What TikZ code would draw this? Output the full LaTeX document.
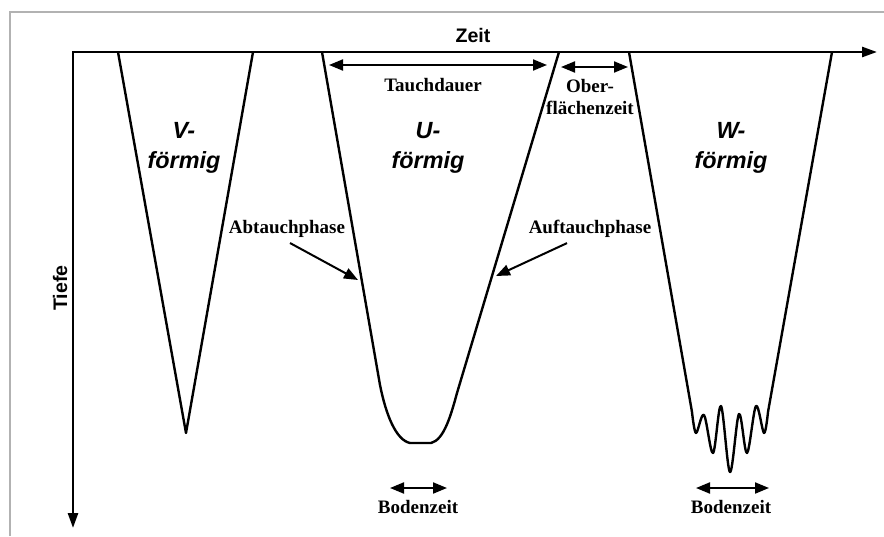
\documentclass[tikz,border=0pt]{standalone}
\usepackage{fontspec}
\setmainfont{Liberation Serif}
\setsansfont{Liberation Sans}
\usetikzlibrary{arrows.meta, positioning}

\tikzset{
  axis/.style={line width=1.3pt, {Triangle[length=7.5pt,width=5pt]}-{Triangle[length=7.5pt,width=5pt]}},
  profile/.style={line width=1.2pt, line join=round},
  span/.style={line width=1pt, {Triangle[length=7pt,width=5.5pt]}-{Triangle[length=7pt,width=5.5pt]}},
  pointer/.style={line width=1pt, -{Triangle[length=7pt,width=5.5pt]}},
  lbl/.style={font=\bfseries\fontsize{9.5}{11.4}\selectfont, align=center, inner sep=0pt},
  shapelbl/.style={font=\sffamily\bfseries\itshape\fontsize{11.7}{15}\selectfont, align=center, inner sep=0pt},
  axlbl/.style={font=\sffamily\bfseries\fontsize{9.8}{12}\selectfont, inner sep=0pt}
}

\begin{document}
\begin{tikzpicture}[x=0.5pt, y=-0.5pt]
        \useasboundingbox (0,0) rectangle (884,536);
        \draw[gray!60, line width=0.7pt] (10,536) -- (10,12) -- (884,12);
        % axes
        \coordinate (origin) at (73,52);
        \coordinate (zeitend) at (877,52);
        \coordinate (tiefeend) at (73,528);
        \draw[axis] (tiefeend) -- (origin) -- (zeitend);
        \node[axlbl] (zeit) at (473,35) {Zeit};
        \node[axlbl, rotate=90] (tiefe) at (60,288) {Tiefe};
        % dive profiles
        \draw[profile] (118,52) -- (186,433) -- (253,52);
        \draw[profile] (322,52) -- (380,385) .. controls (386,415) and (396,440) .. (410,443)
          -- (431,443) .. controls (444,440) and (451,415) .. (457,393) -- (559,52);
        \draw[profile] (629,52) -- plot[smooth, tension=0.55] coordinates {(692,412) (696,433) (704,415)
          (713,453) (721,406) (730,472) (739,414) (747,453) (756,406) (764,433) (768,412)} -- (832,52);
        \node[shapelbl] (vform) at (184,148) {V-\\förmig};
        \node[shapelbl] (uform) at (428,148) {U-\\förmig};
        \node[shapelbl] (wform) at (731,148) {W-\\förmig};
        % durations
        \coordinate (tdL) at (329,65);
        \coordinate (tdR) at (547,65);
        \draw[span] (tdL) -- (tdR);
        \node[lbl] (tauchdauer) at (433,85) {Tauchdauer};
        \coordinate (ofL) at (561,67);
        \coordinate (ofR) at (628,67);
        \draw[span] (ofL) -- (ofR);
        \node[lbl] (oberflaeche) at (590,97) {Ober-\\flächenzeit};
        % phases
        \node[lbl] (abtauch) at (287,229) {Abtauchphase};
        \coordinate (abtip) at (358,280);
        \draw[pointer] ([xshift=1.5pt,yshift=-2.5pt]abtauch.south) -- (abtip);
        \node[lbl] (auftauch) at (590,229) {Auftauchphase};
        \coordinate (auftip) at (496,276);
        \draw[pointer] ([xshift=-11.5pt,yshift=-2.5pt]auftauch.south) -- (auftip);
        % bottom times
        \coordinate (buL) at (390,488);
        \coordinate (buR) at (447,488);
        \draw[span] (buL) -- (buR);
        \node[lbl] (bodenU) at (418,507) {Bodenzeit};
        \coordinate (bwL) at (696,488);
        \coordinate (bwR) at (769,488);
        \draw[span] (bwL) -- (bwR);
        \node[lbl] (bodenW) at (731,507) {Bodenzeit};
\end{tikzpicture}
\end{document}
